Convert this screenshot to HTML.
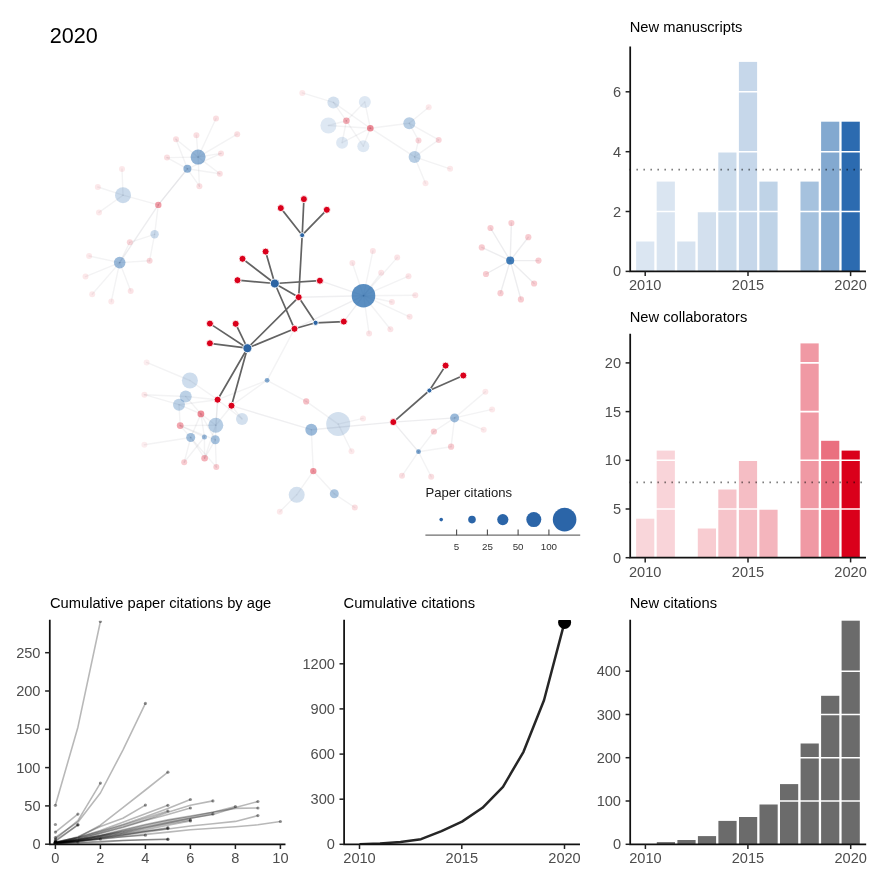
<!DOCTYPE html>
<html lang="en">
<head>
<meta charset="utf-8">
<title>2020</title>
<style>
html,body{margin:0;padding:0;background:#fff;}
body{width:884px;height:884px;overflow:hidden;}
svg{display:block;font-family:"Liberation Sans", sans-serif;will-change:transform;}
</style>
</head>
<body>
<svg width="884" height="884" viewBox="0 0 884 884">
<rect width="884" height="884" fill="#fff"/>
<g id="network">
<g stroke="#33334a" stroke-width="1.4" stroke-linecap="round">
<line x1="198.1" y1="157.1" x2="216" y2="118.5" stroke-opacity="0.06"/>
<line x1="198.1" y1="157.1" x2="237.2" y2="134.2" stroke-opacity="0.06"/>
<line x1="198.1" y1="157.1" x2="196.4" y2="135.2" stroke-opacity="0.06"/>
<line x1="198.1" y1="157.1" x2="176" y2="139.2" stroke-opacity="0.06"/>
<line x1="198.1" y1="157.1" x2="167" y2="157.6" stroke-opacity="0.06"/>
<line x1="198.1" y1="157.1" x2="221" y2="153.4" stroke-opacity="0.06"/>
<line x1="198.1" y1="157.1" x2="219.8" y2="173.8" stroke-opacity="0.06"/>
<line x1="198.1" y1="157.1" x2="199.4" y2="186.2" stroke-opacity="0.06"/>
<line x1="187.4" y1="168.8" x2="176" y2="139.2" stroke-opacity="0.06"/>
<line x1="187.4" y1="168.8" x2="167" y2="157.6" stroke-opacity="0.06"/>
<line x1="187.4" y1="168.8" x2="221" y2="153.4" stroke-opacity="0.06"/>
<line x1="187.4" y1="168.8" x2="219.8" y2="173.8" stroke-opacity="0.06"/>
<line x1="187.4" y1="168.8" x2="199.4" y2="186.2" stroke-opacity="0.06"/>
<line x1="187.4" y1="168.8" x2="158.3" y2="204.9" stroke-opacity="0.12"/>
<line x1="123" y1="195.2" x2="122" y2="169" stroke-opacity="0.06"/>
<line x1="123" y1="195.2" x2="97.8" y2="187" stroke-opacity="0.06"/>
<line x1="123" y1="195.2" x2="99" y2="212.4" stroke-opacity="0.06"/>
<line x1="158.3" y1="204.9" x2="123" y2="195.2" stroke-opacity="0.06"/>
<line x1="158.3" y1="204.9" x2="154.6" y2="234.3" stroke-opacity="0.06"/>
<line x1="158.3" y1="204.9" x2="119.7" y2="262.6" stroke-opacity="0.09"/>
<line x1="154.6" y1="234.3" x2="129.8" y2="242.3" stroke-opacity="0.06"/>
<line x1="154.6" y1="234.3" x2="149.6" y2="260.8" stroke-opacity="0.06"/>
<line x1="119.7" y1="262.6" x2="149.6" y2="260.8" stroke-opacity="0.06"/>
<line x1="119.7" y1="262.6" x2="129.8" y2="242.3" stroke-opacity="0.06"/>
<line x1="119.7" y1="262.6" x2="89.1" y2="256" stroke-opacity="0.06"/>
<line x1="119.7" y1="262.6" x2="85.5" y2="276.6" stroke-opacity="0.06"/>
<line x1="119.7" y1="262.6" x2="92.2" y2="294.3" stroke-opacity="0.06"/>
<line x1="119.7" y1="262.6" x2="111.3" y2="301.5" stroke-opacity="0.06"/>
<line x1="119.7" y1="262.6" x2="130.7" y2="290.9" stroke-opacity="0.06"/>
<line x1="333.4" y1="102.4" x2="302.3" y2="92.9" stroke-opacity="0.06"/>
<line x1="333.4" y1="102.4" x2="346.4" y2="120.8" stroke-opacity="0.06"/>
<line x1="333.4" y1="102.4" x2="370.3" y2="128.2" stroke-opacity="0.06"/>
<line x1="364.8" y1="101.9" x2="346.4" y2="120.8" stroke-opacity="0.06"/>
<line x1="364.8" y1="101.9" x2="370.3" y2="128.2" stroke-opacity="0.06"/>
<line x1="328.4" y1="125.5" x2="346.4" y2="120.8" stroke-opacity="0.06"/>
<line x1="328.4" y1="125.5" x2="370.3" y2="128.2" stroke-opacity="0.06"/>
<line x1="342.1" y1="142.7" x2="346.4" y2="120.8" stroke-opacity="0.06"/>
<line x1="342.1" y1="142.7" x2="370.3" y2="128.2" stroke-opacity="0.06"/>
<line x1="363.3" y1="146.2" x2="346.4" y2="120.8" stroke-opacity="0.06"/>
<line x1="363.3" y1="146.2" x2="370.3" y2="128.2" stroke-opacity="0.06"/>
<line x1="409.3" y1="123.3" x2="370.3" y2="128.2" stroke-opacity="0.06"/>
<line x1="414.6" y1="156.9" x2="370.3" y2="128.2" stroke-opacity="0.06"/>
<line x1="409.3" y1="123.3" x2="428.7" y2="107.3" stroke-opacity="0.06"/>
<line x1="409.3" y1="123.3" x2="438.7" y2="139.9" stroke-opacity="0.06"/>
<line x1="414.6" y1="156.9" x2="418.5" y2="140.4" stroke-opacity="0.06"/>
<line x1="414.6" y1="156.9" x2="438.7" y2="139.9" stroke-opacity="0.06"/>
<line x1="414.6" y1="156.9" x2="450.1" y2="168.8" stroke-opacity="0.06"/>
<line x1="414.6" y1="156.9" x2="425.5" y2="183.2" stroke-opacity="0.06"/>
<line x1="409.3" y1="123.3" x2="418.5" y2="140.4" stroke-opacity="0.06"/>
<line x1="510.2" y1="260.6" x2="490.5" y2="228" stroke-opacity="0.09"/>
<line x1="510.2" y1="260.6" x2="511.4" y2="223" stroke-opacity="0.09"/>
<line x1="510.2" y1="260.6" x2="528.3" y2="237.2" stroke-opacity="0.09"/>
<line x1="510.2" y1="260.6" x2="481.8" y2="247.4" stroke-opacity="0.09"/>
<line x1="510.2" y1="260.6" x2="538.5" y2="260.6" stroke-opacity="0.09"/>
<line x1="510.2" y1="260.6" x2="486" y2="274" stroke-opacity="0.09"/>
<line x1="510.2" y1="260.6" x2="534.1" y2="283.5" stroke-opacity="0.09"/>
<line x1="510.2" y1="260.6" x2="500.5" y2="293.2" stroke-opacity="0.09"/>
<line x1="510.2" y1="260.6" x2="520.9" y2="299.4" stroke-opacity="0.09"/>
<line x1="363.5" y1="295.7" x2="372.9" y2="250.9" stroke-opacity="0.06"/>
<line x1="363.5" y1="295.7" x2="397.2" y2="257.6" stroke-opacity="0.06"/>
<line x1="363.5" y1="295.7" x2="352.4" y2="263" stroke-opacity="0.06"/>
<line x1="363.5" y1="295.7" x2="381.2" y2="272.7" stroke-opacity="0.06"/>
<line x1="363.5" y1="295.7" x2="408.5" y2="276.2" stroke-opacity="0.06"/>
<line x1="363.5" y1="295.7" x2="415.3" y2="295.2" stroke-opacity="0.06"/>
<line x1="363.5" y1="295.7" x2="391.9" y2="302" stroke-opacity="0.06"/>
<line x1="363.5" y1="295.7" x2="409.6" y2="316.8" stroke-opacity="0.06"/>
<line x1="363.5" y1="295.7" x2="390.4" y2="329.3" stroke-opacity="0.06"/>
<line x1="363.5" y1="295.7" x2="369.1" y2="333.5" stroke-opacity="0.06"/>
<line x1="363.5" y1="295.7" x2="319.9" y2="280.7" stroke-opacity="0.08"/>
<line x1="363.5" y1="295.7" x2="298.7" y2="297.2" stroke-opacity="0.08"/>
<line x1="363.5" y1="295.7" x2="294.5" y2="328.8" stroke-opacity="0.08"/>
<line x1="363.5" y1="295.7" x2="343.8" y2="321.6" stroke-opacity="0.08"/>
<line x1="267.1" y1="380.3" x2="294.5" y2="328.8" stroke-opacity="0.06"/>
<line x1="267.1" y1="380.3" x2="217.6" y2="399.7" stroke-opacity="0.06"/>
<line x1="267.1" y1="380.3" x2="231.5" y2="405.7" stroke-opacity="0.06"/>
<line x1="267.1" y1="380.3" x2="306.2" y2="401.4" stroke-opacity="0.06"/>
<line x1="306.2" y1="401.4" x2="338.2" y2="424.1" stroke-opacity="0.06"/>
<line x1="311.3" y1="429.7" x2="231.5" y2="405.7" stroke-opacity="0.08"/>
<line x1="311.3" y1="429.7" x2="393.3" y2="422.1" stroke-opacity="0.09"/>
<line x1="338.2" y1="424.1" x2="363" y2="418.4" stroke-opacity="0.06"/>
<line x1="338.2" y1="424.1" x2="351.5" y2="451.2" stroke-opacity="0.06"/>
<line x1="311.3" y1="429.7" x2="313.3" y2="471.1" stroke-opacity="0.06"/>
<line x1="313.3" y1="471.1" x2="296.7" y2="494.8" stroke-opacity="0.06"/>
<line x1="313.3" y1="471.1" x2="334.3" y2="493.8" stroke-opacity="0.06"/>
<line x1="296.7" y1="494.8" x2="279.8" y2="511.7" stroke-opacity="0.06"/>
<line x1="334.3" y1="493.8" x2="354.8" y2="507.5" stroke-opacity="0.06"/>
<line x1="393.3" y1="422.1" x2="418.5" y2="451.7" stroke-opacity="0.09"/>
<line x1="393.3" y1="422.1" x2="454.6" y2="417.9" stroke-opacity="0.09"/>
<line x1="454.6" y1="417.9" x2="485.4" y2="391.7" stroke-opacity="0.06"/>
<line x1="454.6" y1="417.9" x2="492.1" y2="409.4" stroke-opacity="0.06"/>
<line x1="454.6" y1="417.9" x2="483.7" y2="429.8" stroke-opacity="0.06"/>
<line x1="454.6" y1="417.9" x2="433.9" y2="431.5" stroke-opacity="0.06"/>
<line x1="454.6" y1="417.9" x2="451.1" y2="446.7" stroke-opacity="0.06"/>
<line x1="418.5" y1="451.7" x2="433.9" y2="431.5" stroke-opacity="0.06"/>
<line x1="418.5" y1="451.7" x2="451.1" y2="446.7" stroke-opacity="0.06"/>
<line x1="418.5" y1="451.7" x2="402" y2="475.8" stroke-opacity="0.06"/>
<line x1="418.5" y1="451.7" x2="431.2" y2="476.8" stroke-opacity="0.06"/>
<line x1="189.9" y1="380.5" x2="146.6" y2="362.4" stroke-opacity="0.06"/>
<line x1="189.9" y1="380.5" x2="217.6" y2="399.7" stroke-opacity="0.06"/>
<line x1="185.7" y1="396.5" x2="144.4" y2="394.7" stroke-opacity="0.06"/>
<line x1="185.7" y1="396.5" x2="217.6" y2="399.7" stroke-opacity="0.06"/>
<line x1="179" y1="404.7" x2="144.4" y2="394.7" stroke-opacity="0.06"/>
<line x1="179" y1="404.7" x2="217.6" y2="399.7" stroke-opacity="0.06"/>
<line x1="179" y1="404.7" x2="200.9" y2="413.9" stroke-opacity="0.06"/>
<line x1="185.7" y1="396.5" x2="200.9" y2="413.9" stroke-opacity="0.06"/>
<line x1="179" y1="404.7" x2="180.2" y2="425.6" stroke-opacity="0.06"/>
<line x1="215.8" y1="425.3" x2="217.6" y2="399.7" stroke-opacity="0.06"/>
<line x1="215.8" y1="425.3" x2="231.5" y2="405.7" stroke-opacity="0.06"/>
<line x1="215.8" y1="425.3" x2="200.9" y2="413.9" stroke-opacity="0.06"/>
<line x1="215.8" y1="425.3" x2="180.2" y2="425.6" stroke-opacity="0.06"/>
<line x1="215.8" y1="425.3" x2="204.6" y2="458.2" stroke-opacity="0.06"/>
<line x1="242" y1="418.9" x2="231.5" y2="405.7" stroke-opacity="0.06"/>
<line x1="242" y1="418.9" x2="217.6" y2="399.7" stroke-opacity="0.06"/>
<line x1="190.7" y1="437.5" x2="144.4" y2="444.7" stroke-opacity="0.06"/>
<line x1="190.7" y1="437.5" x2="180.2" y2="425.6" stroke-opacity="0.06"/>
<line x1="190.7" y1="437.5" x2="200.9" y2="413.9" stroke-opacity="0.06"/>
<line x1="190.7" y1="437.5" x2="204.6" y2="458.2" stroke-opacity="0.06"/>
<line x1="190.7" y1="437.5" x2="184.2" y2="462.2" stroke-opacity="0.06"/>
<line x1="190.7" y1="437.5" x2="216.3" y2="467.1" stroke-opacity="0.06"/>
<line x1="204.4" y1="437" x2="200.9" y2="413.9" stroke-opacity="0.06"/>
<line x1="204.4" y1="437" x2="204.6" y2="458.2" stroke-opacity="0.06"/>
<line x1="204.4" y1="437" x2="184.2" y2="462.2" stroke-opacity="0.06"/>
<line x1="204.4" y1="437" x2="180.2" y2="425.6" stroke-opacity="0.06"/>
<line x1="215.3" y1="439.8" x2="204.6" y2="458.2" stroke-opacity="0.06"/>
<line x1="215.3" y1="439.8" x2="216.3" y2="467.1" stroke-opacity="0.06"/>
<line x1="215.3" y1="439.8" x2="200.9" y2="413.9" stroke-opacity="0.06"/>
<line x1="215.3" y1="439.8" x2="217.6" y2="399.7" stroke-opacity="0.06"/>
<line x1="215.3" y1="439.8" x2="180.2" y2="425.6" stroke-opacity="0.06"/>
</g>
<g fill="#da001b">
<circle cx="216" cy="118.5" r="3" fill-opacity="0.13"/>
<circle cx="237.2" cy="134.2" r="3" fill-opacity="0.13"/>
<circle cx="196.4" cy="135.2" r="3" fill-opacity="0.13"/>
<circle cx="176" cy="139.2" r="3" fill-opacity="0.13"/>
<circle cx="167" cy="157.6" r="3" fill-opacity="0.13"/>
<circle cx="221" cy="153.4" r="3" fill-opacity="0.13"/>
<circle cx="219.8" cy="173.8" r="3" fill-opacity="0.13"/>
<circle cx="199.4" cy="186.2" r="3" fill-opacity="0.13"/>
<circle cx="158.3" cy="204.9" r="3.2" fill-opacity="0.38"/>
<circle cx="122" cy="169" r="3" fill-opacity="0.09"/>
<circle cx="97.8" cy="187" r="3" fill-opacity="0.09"/>
<circle cx="99" cy="212.4" r="3" fill-opacity="0.09"/>
<circle cx="129.8" cy="242.3" r="3" fill-opacity="0.16"/>
<circle cx="149.6" cy="260.8" r="3" fill-opacity="0.16"/>
<circle cx="89.1" cy="256" r="3" fill-opacity="0.09"/>
<circle cx="85.5" cy="276.6" r="3" fill-opacity="0.09"/>
<circle cx="92.2" cy="294.3" r="3" fill-opacity="0.09"/>
<circle cx="111.3" cy="301.5" r="3" fill-opacity="0.09"/>
<circle cx="130.7" cy="290.9" r="3" fill-opacity="0.11"/>
<circle cx="346.4" cy="120.8" r="3.3" fill-opacity="0.33"/>
<circle cx="370.3" cy="128.2" r="3.3" fill-opacity="0.45"/>
<circle cx="302.3" cy="92.9" r="3" fill-opacity="0.09"/>
<circle cx="428.7" cy="107.3" r="3" fill-opacity="0.09"/>
<circle cx="418.5" cy="140.4" r="3" fill-opacity="0.17"/>
<circle cx="438.7" cy="139.9" r="3" fill-opacity="0.17"/>
<circle cx="450.1" cy="168.8" r="3" fill-opacity="0.09"/>
<circle cx="425.5" cy="183.2" r="3" fill-opacity="0.09"/>
<circle cx="490.5" cy="228" r="3.1" fill-opacity="0.2"/>
<circle cx="511.4" cy="223" r="3.1" fill-opacity="0.2"/>
<circle cx="528.3" cy="237.2" r="3.1" fill-opacity="0.2"/>
<circle cx="481.8" cy="247.4" r="3.1" fill-opacity="0.2"/>
<circle cx="538.5" cy="260.6" r="3.1" fill-opacity="0.2"/>
<circle cx="486" cy="274" r="3.1" fill-opacity="0.2"/>
<circle cx="534.1" cy="283.5" r="3.1" fill-opacity="0.2"/>
<circle cx="500.5" cy="293.2" r="3.1" fill-opacity="0.2"/>
<circle cx="520.9" cy="299.4" r="3.1" fill-opacity="0.2"/>
<circle cx="372.9" cy="250.9" r="3" fill-opacity="0.11"/>
<circle cx="397.2" cy="257.6" r="3" fill-opacity="0.11"/>
<circle cx="352.4" cy="263" r="3" fill-opacity="0.11"/>
<circle cx="381.2" cy="272.7" r="3" fill-opacity="0.11"/>
<circle cx="408.5" cy="276.2" r="3" fill-opacity="0.11"/>
<circle cx="415.3" cy="295.2" r="3" fill-opacity="0.11"/>
<circle cx="391.9" cy="302" r="3" fill-opacity="0.11"/>
<circle cx="409.6" cy="316.8" r="3" fill-opacity="0.11"/>
<circle cx="390.4" cy="329.3" r="3" fill-opacity="0.11"/>
<circle cx="369.1" cy="333.5" r="3" fill-opacity="0.11"/>
<circle cx="306.2" cy="401.4" r="3.1" fill-opacity="0.25"/>
<circle cx="363" cy="418.4" r="3" fill-opacity="0.09"/>
<circle cx="351.5" cy="451.2" r="3" fill-opacity="0.09"/>
<circle cx="313.3" cy="471.1" r="3.2" fill-opacity="0.42"/>
<circle cx="279.8" cy="511.7" r="3" fill-opacity="0.09"/>
<circle cx="354.8" cy="507.5" r="3" fill-opacity="0.13"/>
<circle cx="485.4" cy="391.7" r="3" fill-opacity="0.09"/>
<circle cx="492.1" cy="409.4" r="3" fill-opacity="0.09"/>
<circle cx="483.7" cy="429.8" r="3" fill-opacity="0.09"/>
<circle cx="433.9" cy="431.5" r="3.1" fill-opacity="0.2"/>
<circle cx="451.1" cy="446.7" r="3.1" fill-opacity="0.2"/>
<circle cx="402" cy="475.8" r="3" fill-opacity="0.13"/>
<circle cx="431.2" cy="476.8" r="3" fill-opacity="0.13"/>
<circle cx="200.9" cy="413.9" r="3.4" fill-opacity="0.45"/>
<circle cx="180.2" cy="425.6" r="3.4" fill-opacity="0.35"/>
<circle cx="204.6" cy="458.2" r="3.3" fill-opacity="0.3"/>
<circle cx="184.2" cy="462.2" r="3" fill-opacity="0.2"/>
<circle cx="216.3" cy="467.1" r="3" fill-opacity="0.2"/>
<circle cx="146.6" cy="362.4" r="3" fill-opacity="0.07"/>
<circle cx="144.4" cy="394.7" r="3" fill-opacity="0.09"/>
<circle cx="144.4" cy="444.7" r="3" fill-opacity="0.07"/>
</g>
<g fill="#2166ac">
<circle cx="198.1" cy="157.1" r="7.5" fill-opacity="0.5"/>
<circle cx="187.4" cy="168.8" r="4" fill-opacity="0.5"/>
<circle cx="123" cy="195.2" r="8" fill-opacity="0.24"/>
<circle cx="154.6" cy="234.3" r="4.2" fill-opacity="0.24"/>
<circle cx="119.7" cy="262.6" r="5.8" fill-opacity="0.45"/>
<circle cx="333.4" cy="102.4" r="6" fill-opacity="0.2"/>
<circle cx="364.8" cy="101.9" r="6" fill-opacity="0.15"/>
<circle cx="328.4" cy="125.5" r="8" fill-opacity="0.15"/>
<circle cx="342.1" cy="142.7" r="6" fill-opacity="0.15"/>
<circle cx="363.3" cy="146.2" r="6" fill-opacity="0.15"/>
<circle cx="409.3" cy="123.3" r="6" fill-opacity="0.32"/>
<circle cx="414.6" cy="156.9" r="6" fill-opacity="0.32"/>
<circle cx="510.2" cy="260.6" r="4" fill-opacity="0.85"/>
<circle cx="363.5" cy="295.7" r="11.8" fill-opacity="0.74"/>
<circle cx="267.1" cy="380.3" r="2.4" fill-opacity="0.55"/>
<circle cx="338.2" cy="424.1" r="12" fill-opacity="0.2"/>
<circle cx="311.3" cy="429.7" r="6" fill-opacity="0.45"/>
<circle cx="296.7" cy="494.8" r="8" fill-opacity="0.2"/>
<circle cx="334.3" cy="493.8" r="4.5" fill-opacity="0.38"/>
<circle cx="418.5" cy="451.7" r="2.4" fill-opacity="0.6"/>
<circle cx="454.6" cy="417.9" r="4.5" fill-opacity="0.45"/>
<circle cx="189.9" cy="380.5" r="8" fill-opacity="0.22"/>
<circle cx="185.7" cy="396.5" r="6" fill-opacity="0.3"/>
<circle cx="179" cy="404.7" r="6" fill-opacity="0.3"/>
<circle cx="215.8" cy="425.3" r="7.5" fill-opacity="0.33"/>
<circle cx="242" cy="418.9" r="6" fill-opacity="0.2"/>
<circle cx="190.7" cy="437.5" r="4.5" fill-opacity="0.42"/>
<circle cx="204.4" cy="437" r="2.5" fill-opacity="0.45"/>
<circle cx="215.3" cy="439.8" r="4.5" fill-opacity="0.4"/>
</g>
<g stroke="#636363" stroke-width="1.7" stroke-linecap="round">
<line x1="302.2" y1="235.2" x2="280.8" y2="208.1"/>
<line x1="302.2" y1="235.2" x2="303.9" y2="199.1"/>
<line x1="302.2" y1="235.2" x2="326.8" y2="209.8"/>
<line x1="302.2" y1="235.2" x2="298.7" y2="297.2"/>
<line x1="274.8" y1="283.5" x2="265.6" y2="251.6"/>
<line x1="274.8" y1="283.5" x2="242.5" y2="258.8"/>
<line x1="274.8" y1="283.5" x2="237.5" y2="280.2"/>
<line x1="274.8" y1="283.5" x2="319.9" y2="280.7"/>
<line x1="274.8" y1="283.5" x2="298.7" y2="297.2"/>
<line x1="274.8" y1="283.5" x2="294.5" y2="328.8"/>
<line x1="315.6" y1="322.8" x2="298.7" y2="297.2"/>
<line x1="315.6" y1="322.8" x2="343.8" y2="321.6"/>
<line x1="315.6" y1="322.8" x2="294.5" y2="328.8"/>
<line x1="247.4" y1="348.2" x2="209.9" y2="323.6"/>
<line x1="247.4" y1="348.2" x2="235.7" y2="323.8"/>
<line x1="247.4" y1="348.2" x2="209.9" y2="343.3"/>
<line x1="247.4" y1="348.2" x2="298.7" y2="297.2"/>
<line x1="247.4" y1="348.2" x2="294.5" y2="328.8"/>
<line x1="247.4" y1="348.2" x2="217.6" y2="399.7"/>
<line x1="247.4" y1="348.2" x2="231.5" y2="405.7"/>
<line x1="429.4" y1="390.5" x2="445.6" y2="365.6"/>
<line x1="429.4" y1="390.5" x2="463.3" y2="375.5"/>
<line x1="429.4" y1="390.5" x2="393.3" y2="422.1"/>
</g>
<g fill="#da001b" stroke="#fff" stroke-width="0.9">
<circle cx="280.8" cy="208.1" r="3.5"/>
<circle cx="303.9" cy="199.1" r="3.5"/>
<circle cx="326.8" cy="209.8" r="3.5"/>
<circle cx="265.6" cy="251.6" r="3.5"/>
<circle cx="242.5" cy="258.8" r="3.5"/>
<circle cx="237.5" cy="280.2" r="3.5"/>
<circle cx="319.9" cy="280.7" r="3.5"/>
<circle cx="298.7" cy="297.2" r="3.5"/>
<circle cx="343.8" cy="321.6" r="3.5"/>
<circle cx="294.5" cy="328.8" r="3.5"/>
<circle cx="209.9" cy="323.6" r="3.5"/>
<circle cx="235.7" cy="323.8" r="3.5"/>
<circle cx="209.9" cy="343.3" r="3.5"/>
<circle cx="217.6" cy="399.7" r="3.5"/>
<circle cx="231.5" cy="405.7" r="3.5"/>
<circle cx="445.6" cy="365.6" r="3.5"/>
<circle cx="463.3" cy="375.5" r="3.5"/>
<circle cx="393.3" cy="422.1" r="3.5"/>
</g>
<g fill="#2c64a3" stroke="#fff" stroke-width="0.9">
<circle cx="302.2" cy="235.2" r="2.5"/>
<circle cx="274.8" cy="283.5" r="4.5"/>
<circle cx="315.6" cy="322.8" r="2.6"/>
<circle cx="247.4" cy="348.2" r="4.5"/>
<circle cx="429.4" cy="390.5" r="2.5"/>
</g>
</g>
<g id="legend">
<text x="425.5" y="496.6" font-size="13.1" fill="#1a1a1a">Paper citations</text>
<circle cx="441.2" cy="519.6" r="1.8" fill="#2b65a8"/>
<circle cx="472" cy="519.6" r="3.8" fill="#2b65a8"/>
<circle cx="502.8" cy="519.6" r="5.6" fill="#2b65a8"/>
<circle cx="533.8" cy="519.6" r="7.5" fill="#2b65a8"/>
<circle cx="564.6" cy="519.6" r="11.8" fill="#2b65a8"/>
<path d="M425.4 535.2H580.2" stroke="#6e6e6e" stroke-width="1.2" fill="none"/>
<path d="M456.6 529.4V535.2" stroke="#4d4d4d" stroke-width="1.1"/>
<text x="456.6" y="549.5" font-size="9.8" text-anchor="middle" fill="#333">5</text>
<path d="M487.4 529.4V535.2" stroke="#4d4d4d" stroke-width="1.1"/>
<text x="487.4" y="549.5" font-size="9.8" text-anchor="middle" fill="#333">25</text>
<path d="M518.1 529.4V535.2" stroke="#4d4d4d" stroke-width="1.1"/>
<text x="518.1" y="549.5" font-size="9.8" text-anchor="middle" fill="#333">50</text>
<path d="M548.9 529.4V535.2" stroke="#4d4d4d" stroke-width="1.1"/>
<text x="548.9" y="549.5" font-size="9.8" text-anchor="middle" fill="#333">100</text>
</g>
<text x="49.8" y="42.6" font-size="21.6" fill="#000">2020</text>
<g id="manuscripts">
<rect x="636.1" y="241.5" width="18.2" height="29.9" fill="#2166ac" fill-opacity="0.16"/>
<rect x="656.7" y="181.6" width="18.2" height="89.8" fill="#2166ac" fill-opacity="0.17"/>
<rect x="677.2" y="241.5" width="18.2" height="29.9" fill="#2166ac" fill-opacity="0.18"/>
<rect x="697.8" y="211.5" width="18.2" height="59.9" fill="#2166ac" fill-opacity="0.2"/>
<rect x="718.3" y="151.7" width="18.2" height="119.7" fill="#2166ac" fill-opacity="0.23"/>
<rect x="738.9" y="61.9" width="18.2" height="209.5" fill="#2166ac" fill-opacity="0.26"/>
<rect x="759.4" y="181.6" width="18.2" height="89.8" fill="#2166ac" fill-opacity="0.29"/>
<rect x="800.5" y="181.6" width="18.2" height="89.8" fill="#2166ac" fill-opacity="0.4"/>
<rect x="821.1" y="121.7" width="18.2" height="149.7" fill="#2166ac" fill-opacity="0.56"/>
<rect x="841.6" y="121.7" width="18.2" height="149.7" fill="#2c6bb0" fill-opacity="1.0"/>
<path d="M631 211.5H865.5" stroke="#fff" stroke-width="1.6"/>
<path d="M631 151.7H865.5" stroke="#fff" stroke-width="1.6"/>
<path d="M631 91.8H865.5" stroke="#fff" stroke-width="1.6"/>
<path d="M629.4 169.6H865.5" stroke="#000" stroke-opacity="0.5" stroke-width="1.6" stroke-dasharray="1.6 5.4" fill="none"/>
<text x="629.7" y="31.6" font-size="14.7" fill="#000">New manuscripts</text>
<path d="M630.2 47.4V271.4H865.1" stroke="#111" stroke-width="1.75" fill="none" stroke-linecap="square"/>
<path d="M625.6 271.4H630.2" stroke="#222" stroke-width="1.5"/>
<text x="621" y="276.4" font-size="14.6" text-anchor="end" fill="#4d4d4d">0</text>
<path d="M625.6 211.5H630.2" stroke="#222" stroke-width="1.5"/>
<text x="621" y="216.5" font-size="14.6" text-anchor="end" fill="#4d4d4d">2</text>
<path d="M625.6 151.7H630.2" stroke="#222" stroke-width="1.5"/>
<text x="621" y="156.7" font-size="14.6" text-anchor="end" fill="#4d4d4d">4</text>
<path d="M625.6 91.8H630.2" stroke="#222" stroke-width="1.5"/>
<text x="621" y="96.8" font-size="14.6" text-anchor="end" fill="#4d4d4d">6</text>
<path d="M645.2 271.4V276.1" stroke="#222" stroke-width="1.5"/>
<text x="645.2" y="289.5" font-size="14.6" text-anchor="middle" fill="#4d4d4d">2010</text>
<path d="M748 271.4V276.1" stroke="#222" stroke-width="1.5"/>
<text x="748" y="289.5" font-size="14.6" text-anchor="middle" fill="#4d4d4d">2015</text>
<path d="M850.6 271.4V276.1" stroke="#222" stroke-width="1.5"/>
<text x="850.6" y="289.5" font-size="14.6" text-anchor="middle" fill="#4d4d4d">2020</text>
</g>
<g id="collab">
<rect x="636.1" y="518.7" width="18.2" height="39" fill="#da001b" fill-opacity="0.16"/>
<rect x="656.7" y="450.6" width="18.2" height="107.1" fill="#da001b" fill-opacity="0.17"/>
<rect x="697.8" y="528.5" width="18.2" height="29.2" fill="#da001b" fill-opacity="0.2"/>
<rect x="718.3" y="489.5" width="18.2" height="68.2" fill="#da001b" fill-opacity="0.23"/>
<rect x="738.9" y="460.3" width="18.2" height="97.4" fill="#da001b" fill-opacity="0.26"/>
<rect x="759.4" y="509" width="18.2" height="48.7" fill="#da001b" fill-opacity="0.29"/>
<rect x="800.5" y="343.4" width="18.2" height="214.3" fill="#da001b" fill-opacity="0.4"/>
<rect x="821.1" y="440.8" width="18.2" height="116.9" fill="#da001b" fill-opacity="0.56"/>
<rect x="841.6" y="450.6" width="18.2" height="107.1" fill="#da001b" fill-opacity="1.0"/>
<path d="M631 509H865.5" stroke="#fff" stroke-width="1.6"/>
<path d="M631 460.3H865.5" stroke="#fff" stroke-width="1.6"/>
<path d="M631 411.6H865.5" stroke="#fff" stroke-width="1.6"/>
<path d="M631 362.9H865.5" stroke="#fff" stroke-width="1.6"/>
<path d="M629.4 482.4H865.5" stroke="#000" stroke-opacity="0.5" stroke-width="1.6" stroke-dasharray="1.6 5.4" fill="none"/>
<text x="629.7" y="322" font-size="14.7" fill="#000">New collaborators</text>
<path d="M630.2 334.6V557.7H865.1" stroke="#111" stroke-width="1.75" fill="none" stroke-linecap="square"/>
<path d="M625.6 557.7H630.2" stroke="#222" stroke-width="1.5"/>
<text x="621" y="562.7" font-size="14.6" text-anchor="end" fill="#4d4d4d">0</text>
<path d="M625.6 509H630.2" stroke="#222" stroke-width="1.5"/>
<text x="621" y="514" font-size="14.6" text-anchor="end" fill="#4d4d4d">5</text>
<path d="M625.6 460.3H630.2" stroke="#222" stroke-width="1.5"/>
<text x="621" y="465.3" font-size="14.6" text-anchor="end" fill="#4d4d4d">10</text>
<path d="M625.6 411.6H630.2" stroke="#222" stroke-width="1.5"/>
<text x="621" y="416.6" font-size="14.6" text-anchor="end" fill="#4d4d4d">15</text>
<path d="M625.6 362.9H630.2" stroke="#222" stroke-width="1.5"/>
<text x="621" y="367.9" font-size="14.6" text-anchor="end" fill="#4d4d4d">20</text>
<path d="M645.2 557.7V562.4" stroke="#222" stroke-width="1.5"/>
<text x="645.2" y="576.5" font-size="14.6" text-anchor="middle" fill="#4d4d4d">2010</text>
<path d="M748 557.7V562.4" stroke="#222" stroke-width="1.5"/>
<text x="748" y="576.5" font-size="14.6" text-anchor="middle" fill="#4d4d4d">2015</text>
<path d="M850.6 557.7V562.4" stroke="#222" stroke-width="1.5"/>
<text x="850.6" y="576.5" font-size="14.6" text-anchor="middle" fill="#4d4d4d">2020</text>
</g>
<g id="newcit">
<rect x="656.8" y="842.1" width="18.2" height="2.2" fill="#6b6b6b" fill-opacity="1"/>
<rect x="677.4" y="840" width="18.2" height="4.3" fill="#6b6b6b" fill-opacity="1"/>
<rect x="697.9" y="836.1" width="18.2" height="8.2" fill="#6b6b6b" fill-opacity="1"/>
<rect x="718.4" y="820.9" width="18.2" height="23.4" fill="#6b6b6b" fill-opacity="1"/>
<rect x="739" y="817" width="18.2" height="27.3" fill="#6b6b6b" fill-opacity="1"/>
<rect x="759.5" y="804.5" width="18.2" height="39.8" fill="#6b6b6b" fill-opacity="1"/>
<rect x="780" y="784.1" width="18.2" height="60.2" fill="#6b6b6b" fill-opacity="1"/>
<rect x="800.6" y="743.5" width="18.2" height="100.8" fill="#6b6b6b" fill-opacity="1"/>
<rect x="821.1" y="695.8" width="18.2" height="148.5" fill="#6b6b6b" fill-opacity="1"/>
<rect x="841.6" y="620.7" width="18.2" height="223.6" fill="#6b6b6b" fill-opacity="1"/>
<path d="M631 801H865.7" stroke="#fff" stroke-width="1.6"/>
<path d="M631 757.7H865.7" stroke="#fff" stroke-width="1.6"/>
<path d="M631 714.5H865.7" stroke="#fff" stroke-width="1.6"/>
<path d="M631 671.2H865.7" stroke="#fff" stroke-width="1.6"/>
<text x="629.7" y="608.4" font-size="14.7" fill="#000">New citations</text>
<path d="M630.2 620.7V844.3H865.3" stroke="#111" stroke-width="1.75" fill="none" stroke-linecap="square"/>
<path d="M625.6 844.3H630.2" stroke="#222" stroke-width="1.5"/>
<text x="621" y="849.3" font-size="14.6" text-anchor="end" fill="#4d4d4d">0</text>
<path d="M625.6 801H630.2" stroke="#222" stroke-width="1.5"/>
<text x="621" y="806" font-size="14.6" text-anchor="end" fill="#4d4d4d">100</text>
<path d="M625.6 757.7H630.2" stroke="#222" stroke-width="1.5"/>
<text x="621" y="762.7" font-size="14.6" text-anchor="end" fill="#4d4d4d">200</text>
<path d="M625.6 714.5H630.2" stroke="#222" stroke-width="1.5"/>
<text x="621" y="719.5" font-size="14.6" text-anchor="end" fill="#4d4d4d">300</text>
<path d="M625.6 671.2H630.2" stroke="#222" stroke-width="1.5"/>
<text x="621" y="676.2" font-size="14.6" text-anchor="end" fill="#4d4d4d">400</text>
<path d="M645.4 844.3V849" stroke="#222" stroke-width="1.5"/>
<text x="645.4" y="862.9" font-size="14.6" text-anchor="middle" fill="#4d4d4d">2010</text>
<path d="M747.9 844.3V849" stroke="#222" stroke-width="1.5"/>
<text x="747.9" y="862.9" font-size="14.6" text-anchor="middle" fill="#4d4d4d">2015</text>
<path d="M850.7 844.3V849" stroke="#222" stroke-width="1.5"/>
<text x="850.7" y="862.9" font-size="14.6" text-anchor="middle" fill="#4d4d4d">2020</text>
</g>
<g id="cumcit">
<clipPath id="cc"><rect x="344" y="620" width="240" height="225"/></clipPath>
<g clip-path="url(#cc)"><polyline points="359.5,844.3 380,843.5 400.5,842 421,839.2 441.5,831.1 462,821.6 482.5,807.8 503,786.8 523.5,751.8 544,700.2 564.5,622.4" fill="none" stroke="#262626" stroke-width="2.5" stroke-linejoin="round"/>
<circle cx="564.6" cy="622.4" r="6.5" fill="#000"/></g>
<text x="343.6" y="608.4" font-size="14.7" fill="#000">Cumulative citations</text>
<path d="M344.1 620.7V844.3H579.1" stroke="#111" stroke-width="1.75" fill="none" stroke-linecap="square"/>
<path d="M339.5 844.3H344.1" stroke="#222" stroke-width="1.5"/>
<text x="334.9" y="849.3" font-size="14.6" text-anchor="end" fill="#4d4d4d">0</text>
<path d="M339.5 799.2H344.1" stroke="#222" stroke-width="1.5"/>
<text x="334.9" y="804.2" font-size="14.6" text-anchor="end" fill="#4d4d4d">300</text>
<path d="M339.5 754.1H344.1" stroke="#222" stroke-width="1.5"/>
<text x="334.9" y="759.1" font-size="14.6" text-anchor="end" fill="#4d4d4d">600</text>
<path d="M339.5 708.9H344.1" stroke="#222" stroke-width="1.5"/>
<text x="334.9" y="713.9" font-size="14.6" text-anchor="end" fill="#4d4d4d">900</text>
<path d="M339.5 663.8H344.1" stroke="#222" stroke-width="1.5"/>
<text x="334.9" y="668.8" font-size="14.6" text-anchor="end" fill="#4d4d4d">1200</text>
<path d="M359.5 844.3V849" stroke="#222" stroke-width="1.5"/>
<text x="359.5" y="862.9" font-size="14.6" text-anchor="middle" fill="#4d4d4d">2010</text>
<path d="M461.8 844.3V849" stroke="#222" stroke-width="1.5"/>
<text x="461.8" y="862.9" font-size="14.6" text-anchor="middle" fill="#4d4d4d">2015</text>
<path d="M564.5 844.3V849" stroke="#222" stroke-width="1.5"/>
<text x="564.5" y="862.9" font-size="14.6" text-anchor="middle" fill="#4d4d4d">2020</text>
</g>
<g id="bypaper">
<clipPath id="ca"><rect x="50" y="620.7" width="240" height="226"/></clipPath>
<g clip-path="url(#ca)" fill="none" stroke="#000" stroke-opacity="0.28" stroke-width="1.6" stroke-linejoin="round">
<polyline points="55.4,805.3 77.9,727.2 100.4,621.5"/>
<polyline points="55.4,837.5 77.9,822.2 100.4,793 122.9,750.1 145.4,703.4"/>
<polyline points="55.4,832.1 77.9,814.1"/>
<polyline points="55.4,839 77.9,820.6 100.4,783.1"/>
<polyline points="55.4,842.8 77.9,837.5 100.4,825.2 122.9,807.6 145.4,790 167.9,772.2"/>
<polyline points="55.4,842.8 77.9,836.7 100.4,826.4 122.9,818.3 145.4,805.1"/>
<polyline points="55.4,841.3 77.9,824.8"/>
<polyline points="55.4,840.5 77.9,824.8"/>
<polyline points="55.4,842.8 77.9,842.1"/>
<polyline points="55.4,842.8 77.9,841.3 100.4,839"/>
<polyline points="55.4,842.8 77.9,841.3 100.4,839 122.9,836.7 145.4,835.2"/>
<polyline points="55.4,842.1 77.9,837.5 100.4,830.6 122.9,822.2 145.4,813.7 167.9,805.3"/>
<polyline points="55.4,842.8 77.9,838.2 100.4,832.1 122.9,825.2 145.4,818.3 167.9,811"/>
<polyline points="55.4,843.6 77.9,841.3 100.4,838.2 122.9,835.2 145.4,831.3 167.9,827.7"/>
<polyline points="55.4,842.8 77.9,840.5 100.4,837.5 122.9,834.4 145.4,831.3 167.9,828.6"/>
<polyline points="55.4,843.6 77.9,842.8 100.4,841.3 122.9,840.5 145.4,839.8 167.9,839.5"/>
<polyline points="55.4,843.6 77.9,842.8 100.4,842.1 122.9,840.5 145.4,839.8 167.9,839"/>
<polyline points="55.4,842.1 77.9,837.5 100.4,831.3 122.9,824.5 145.4,816.8 167.9,808.4 190.4,799.5"/>
<polyline points="55.4,842.8 77.9,839 100.4,833.6 122.9,827.5 145.4,820.6 167.9,814.5 190.4,808"/>
<polyline points="55.4,842.8 77.9,840.5 100.4,836.7 122.9,832.9 145.4,828.3 167.9,823.7 190.4,819.9"/>
<polyline points="55.4,843.6 77.9,840.5 100.4,837.5 122.9,833.6 145.4,829.8 167.9,825.2 190.4,820.9"/>
<polyline points="55.4,842.8 77.9,839 100.4,832.9 122.9,826.7 145.4,819.9 167.9,812.2 190.4,805.3 212.9,800.9"/>
<polyline points="55.4,842.8 77.9,839.8 100.4,835.9 122.9,831.3 145.4,826.7 167.9,822.2 190.4,818.3 212.9,813.9"/>
<polyline points="55.4,843.6 77.9,839.8 100.4,835.9 122.9,830.6 145.4,825.2 167.9,820.6 190.4,816.8 212.9,812.2 235.4,806.5"/>
<polyline points="55.4,842.8 77.9,839.8 100.4,835.9 122.9,832.1 145.4,827.5 167.9,822.9 190.4,818.3 212.9,814.5 235.4,807.6 257.9,801.5"/>
<polyline points="55.4,842.8 77.9,839.8 100.4,835.2 122.9,829.8 145.4,824.5 167.9,819.9 190.4,816 212.9,812.2 235.4,808.4 257.9,808"/>
<polyline points="55.4,843.6 77.9,841.3 100.4,838.2 122.9,835.2 145.4,832.1 167.9,829 190.4,826 212.9,823.7 235.4,821.4 257.9,815.6"/>
<polyline points="55.4,843.6 77.9,841.3 100.4,839 122.9,836.7 145.4,834.4 167.9,832.1 190.4,829.8 212.9,828.3 235.4,826.7 257.9,824.8 280.4,821.5"/>
</g><g fill="#000" fill-opacity="0.42" clip-path="url(#ca)">
<circle cx="100.4" cy="621.5" r="1.6"/>
<circle cx="55.4" cy="805.3" r="1.6"/>
<circle cx="145.4" cy="703.4" r="1.6"/>
<circle cx="55.4" cy="837.5" r="1.6"/>
<circle cx="77.9" cy="814.1" r="1.6"/>
<circle cx="55.4" cy="832.1" r="1.6"/>
<circle cx="100.4" cy="783.1" r="1.6"/>
<circle cx="55.4" cy="839" r="1.6"/>
<circle cx="55.4" cy="824.5" r="1.6"/>
<circle cx="167.9" cy="772.2" r="1.6"/>
<circle cx="55.4" cy="842.8" r="1.6"/>
<circle cx="145.4" cy="805.1" r="1.6"/>
<circle cx="55.4" cy="842.8" r="1.6"/>
<circle cx="77.9" cy="824.8" r="1.6"/>
<circle cx="55.4" cy="841.3" r="1.6"/>
<circle cx="77.9" cy="824.8" r="1.6"/>
<circle cx="55.4" cy="840.5" r="1.6"/>
<circle cx="77.9" cy="842.1" r="1.6"/>
<circle cx="55.4" cy="842.8" r="1.6"/>
<circle cx="100.4" cy="839" r="1.6"/>
<circle cx="55.4" cy="842.8" r="1.6"/>
<circle cx="145.4" cy="835.2" r="1.6"/>
<circle cx="55.4" cy="842.8" r="1.6"/>
<circle cx="167.9" cy="805.3" r="1.6"/>
<circle cx="55.4" cy="842.1" r="1.6"/>
<circle cx="167.9" cy="811" r="1.6"/>
<circle cx="55.4" cy="842.8" r="1.6"/>
<circle cx="167.9" cy="827.7" r="1.6"/>
<circle cx="55.4" cy="843.6" r="1.6"/>
<circle cx="167.9" cy="828.6" r="1.6"/>
<circle cx="55.4" cy="842.8" r="1.6"/>
<circle cx="167.9" cy="839.5" r="1.6"/>
<circle cx="55.4" cy="843.6" r="1.6"/>
<circle cx="167.9" cy="839" r="1.6"/>
<circle cx="55.4" cy="843.6" r="1.6"/>
<circle cx="190.4" cy="799.5" r="1.6"/>
<circle cx="55.4" cy="842.1" r="1.6"/>
<circle cx="190.4" cy="808" r="1.6"/>
<circle cx="55.4" cy="842.8" r="1.6"/>
<circle cx="190.4" cy="819.9" r="1.6"/>
<circle cx="55.4" cy="842.8" r="1.6"/>
<circle cx="190.4" cy="820.9" r="1.6"/>
<circle cx="55.4" cy="843.6" r="1.6"/>
<circle cx="212.9" cy="800.9" r="1.6"/>
<circle cx="55.4" cy="842.8" r="1.6"/>
<circle cx="212.9" cy="813.9" r="1.6"/>
<circle cx="55.4" cy="842.8" r="1.6"/>
<circle cx="235.4" cy="806.5" r="1.6"/>
<circle cx="55.4" cy="843.6" r="1.6"/>
<circle cx="257.9" cy="801.5" r="1.6"/>
<circle cx="55.4" cy="842.8" r="1.6"/>
<circle cx="257.9" cy="808" r="1.6"/>
<circle cx="55.4" cy="842.8" r="1.6"/>
<circle cx="257.9" cy="815.6" r="1.6"/>
<circle cx="55.4" cy="843.6" r="1.6"/>
<circle cx="280.4" cy="821.5" r="1.6"/>
<circle cx="55.4" cy="843.6" r="1.6"/>
</g>
<text x="50" y="608.4" font-size="14.7" fill="#000">Cumulative paper citations by age</text>
<path d="M49.8 620.7V844.3H284.6" stroke="#111" stroke-width="1.75" fill="none" stroke-linecap="square"/>
<path d="M45.1 844.2H49.8" stroke="#222" stroke-width="1.5"/>
<text x="40.5" y="849.2" font-size="14.6" text-anchor="end" fill="#4d4d4d">0</text>
<path d="M45.1 805.9H49.8" stroke="#222" stroke-width="1.5"/>
<text x="40.5" y="810.9" font-size="14.6" text-anchor="end" fill="#4d4d4d">50</text>
<path d="M45.1 767.6H49.8" stroke="#222" stroke-width="1.5"/>
<text x="40.5" y="772.6" font-size="14.6" text-anchor="end" fill="#4d4d4d">100</text>
<path d="M45.1 729.3H49.8" stroke="#222" stroke-width="1.5"/>
<text x="40.5" y="734.3" font-size="14.6" text-anchor="end" fill="#4d4d4d">150</text>
<path d="M45.1 691H49.8" stroke="#222" stroke-width="1.5"/>
<text x="40.5" y="696" font-size="14.6" text-anchor="end" fill="#4d4d4d">200</text>
<path d="M45.1 652.7H49.8" stroke="#222" stroke-width="1.5"/>
<text x="40.5" y="657.7" font-size="14.6" text-anchor="end" fill="#4d4d4d">250</text>
<path d="M55.4 844.3V849" stroke="#222" stroke-width="1.5"/>
<text x="55.4" y="862.9" font-size="14.6" text-anchor="middle" fill="#4d4d4d">0</text>
<path d="M100.4 844.3V849" stroke="#222" stroke-width="1.5"/>
<text x="100.4" y="862.9" font-size="14.6" text-anchor="middle" fill="#4d4d4d">2</text>
<path d="M145.4 844.3V849" stroke="#222" stroke-width="1.5"/>
<text x="145.4" y="862.9" font-size="14.6" text-anchor="middle" fill="#4d4d4d">4</text>
<path d="M190.4 844.3V849" stroke="#222" stroke-width="1.5"/>
<text x="190.4" y="862.9" font-size="14.6" text-anchor="middle" fill="#4d4d4d">6</text>
<path d="M235.4 844.3V849" stroke="#222" stroke-width="1.5"/>
<text x="235.4" y="862.9" font-size="14.6" text-anchor="middle" fill="#4d4d4d">8</text>
<path d="M280.4 844.3V849" stroke="#222" stroke-width="1.5"/>
<text x="280.4" y="862.9" font-size="14.6" text-anchor="middle" fill="#4d4d4d">10</text>
</g>
</svg>
</body>
</html>
